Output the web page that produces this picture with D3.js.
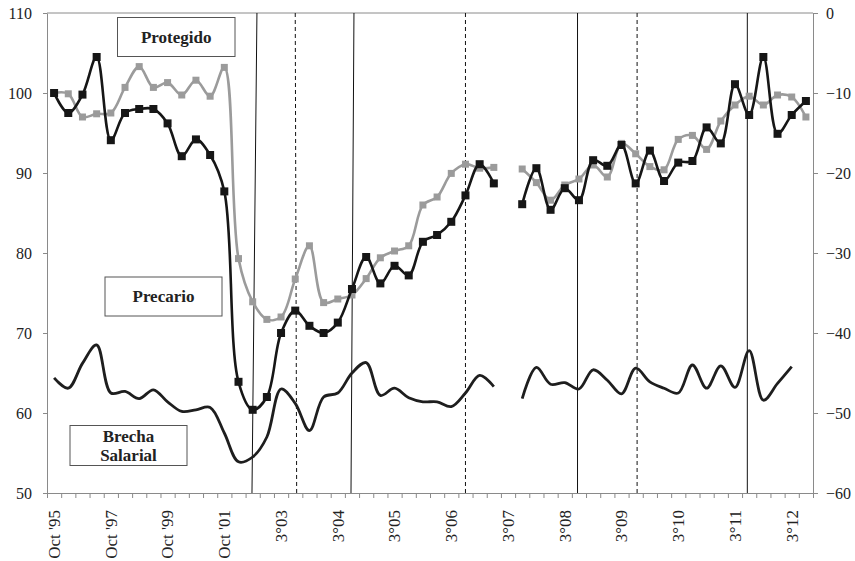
<!doctype html>
<html>
<head>
<meta charset="utf-8">
<title>Protegido, Precario y Brecha Salarial</title>
<script src="https://d3js.org/d3.v7.min.js"></script>
<style>
  body { margin: 0; background: #fff; }
  svg text { font-family: "Liberation Serif", "Times New Roman", serif; fill: #222; }
</style>
</head>
<body>
<script>
// categorias (ondas EPH puntual, luego trimestres EPH continua)
var categories = ["Oct '95","May '96","Oct '96","May '97","Oct '97","May '98","Oct '98","May '99",
  "Oct '99","May '00","Oct '00","May '01","Oct '01","May '02","Oct '02","May '03",
  "3°03","4°03","1°04","2°04","3°04","4°04","1°05","2°05","3°05","4°05","1°06","2°06",
  "3°06","4°06","1°07","2°07","3°07","4°07","1°08","2°08","3°08","4°08","1°09","2°09",
  "3°09","4°09","1°10","2°10","3°10","4°10","1°11","2°11","3°11","4°11","1°12","2°12",
  "3°12","4°12"];

// indice salarial, trabajadores precarios (negro)
var precario = [100, 97.5, 99.8, 104.5, 94.1, 97.5, 98.0, 98.0, 96.2, 92.1, 94.2, 92.25, 87.7,
  63.9, 60.4, 62.0, 70.0, 72.8, 70.9, 70.0, 71.3, 75.5, 79.5, 76.2, 78.4, 77.2, 81.4, 82.25,
  83.9, 87.2, 91.1, 88.7, null, 86.1, 90.6, 85.4, 88.1, 86.6, 91.6, 90.9, 93.5, 88.7, 92.8,
  89.0, 91.3, 91.5, 95.7, 93.7, 101.1, 97.25, 104.5, 94.9, 97.25, 99.0];

// indice salarial, trabajadores protegidos (gris)
var protegido = [100, 99.9, 97.0, 97.4, 97.5, 100.7, 103.3, 100.7, 101.3, 99.75, 101.6, 99.6, 103.2,
  79.3, 73.9, 71.7, 72.0, 76.75, 80.9, 73.8, 74.25, 74.75, 76.8, 79.4, 80.25, 80.9, 86.0, 87.0,
  89.95, 91.1, 90.6, 90.7, null, 90.5, 88.8, 86.6, 88.5, 89.25, 91.0, 89.5, 93.7, 92.4, 90.8,
  90.4, 94.2, 94.7, 92.95, 96.5, 98.5, 99.6, 98.5, 99.75, 99.5, 97.0];

// brecha salarial en % (eje derecho)
var brecha = [-45.6, -46.9, -43.8, -41.5, -47.5, -47.3, -48.2, -47.1, -48.6, -49.8, -49.6, -49.3,
  -52.5, -56.1, -55.5, -53.0, -47.0, -48.8, -52.2, -48.0, -47.5, -45.0, -43.7, -47.8, -46.9,
  -48.1, -48.6, -48.6, -49.2, -47.5, -45.3, -46.7, null, -48.2, -44.3, -46.4, -46.2, -47.0,
  -44.6, -45.9, -47.6, -44.4, -46.1, -46.9, -47.5, -44.0, -46.9, -44.1, -46.8, -42.2, -48.4,
  -46.3, -44.2, null];

var leftTicks = [50, 60, 70, 80, 90, 100, 110];
var rightTicks = [-60, -50, -40, -30, -20, -10, 0];

// cortes de periodo (posicion en categorias, arriba / abajo)
var cortes = [
  {top: 14.30, bottom: 13.95, dashed: false},
  {top: 17.0, bottom: 17.1, dashed: true},
  {top: 21.14, bottom: 20.93, dashed: false},
  {top: 29.0, bottom: 29.0, dashed: true},
  {top: 36.9, bottom: 36.9, dashed: false},
  {top: 41.1, bottom: 41.1, dashed: true},
  {top: 48.87, bottom: 48.87, dashed: false}
];

var width = 855, height = 561;
var plotLeft = 47, plotRight = 813, plotTop = 13, plotBottom = 493;

var svg = d3.select("body").append("svg")
    .attr("width", width)
    .attr("height", height);

var x = d3.scaleBand().domain(categories).range([plotLeft, plotRight]);
var xEdge = d3.scaleLinear().domain([0, categories.length]).range([plotLeft, plotRight]);
var yLeft = d3.scaleLinear().domain([50, 110]).range([plotBottom, plotTop]);
var yRight = d3.scaleLinear().domain([-60, 0]).range([plotBottom, plotTop]);

function cx(i) { return x(categories[i]) + x.bandwidth() / 2; }

var axisColor = "#8a8a8a";

// marco superior
svg.append("line")
    .attr("x1", plotLeft).attr("x2", plotRight)
    .attr("y1", plotTop).attr("y2", plotTop)
    .attr("stroke", axisColor);

// eje izquierdo
var gl = svg.append("g")
    .attr("transform", "translate(" + plotLeft + ",0)")
    .call(d3.axisLeft(yLeft).tickValues(leftTicks).tickSize(4).tickPadding(11).tickSizeOuter(0));
gl.select(".domain").attr("stroke", axisColor);
gl.selectAll(".tick line").attr("stroke", axisColor);
gl.selectAll("text").style("font-size", "16px");

// eje derecho
var gr = svg.append("g")
    .attr("transform", "translate(" + plotRight + ",0)")
    .call(d3.axisRight(yRight).tickValues(rightTicks).tickSize(5).tickPadding(8).tickSizeOuter(0));
gr.select(".domain").attr("stroke", axisColor);
gr.selectAll(".tick line").attr("stroke", axisColor);
gr.selectAll("text").style("font-size", "16px");

// eje x: marcas entre categorias
var gx = svg.append("g")
    .attr("transform", "translate(0," + plotBottom + ")")
    .call(d3.axisBottom(xEdge).tickValues(d3.range(0, categories.length + 1))
      .tickSize(5).tickFormat("").tickSizeOuter(0));
gx.select(".domain").attr("stroke", axisColor);
gx.selectAll(".tick line").attr("stroke", axisColor);

// etiquetas x cada 4 categorias
var gxl = svg.append("g")
    .attr("transform", "translate(0," + plotBottom + ")")
    .call(d3.axisBottom(x).tickValues(categories.filter(function(d, i) { return i % 4 == 0; }))
      .tickSize(0));
gxl.select(".domain").remove();
gxl.selectAll("text")
    .attr("transform", "rotate(-90)")
    .attr("text-anchor", "end")
    .attr("x", -17)
    .attr("y", 0)
    .attr("dy", "0.34em")
    .style("font-size", "17px");

// lineas de corte
svg.selectAll(".corte")
    .data(cortes)
    .enter()
    .append("line")
    .attr("class", "corte")
    .attr("x1", function(d) { return xEdge(d.top + 0.5); })
    .attr("x2", function(d) { return xEdge(d.bottom + 0.5); })
    .attr("y1", plotTop)
    .attr("y2", plotBottom)
    .attr("stroke", "#111")
    .attr("stroke-width", 1)
    .attr("stroke-dasharray", function(d) { return d.dashed ? "4,3" : null; });

function serie(values) {
    return values.map(function(v, i) { return {i: i, v: v}; });
}

function lineFor(scale) {
    return d3.line()
        .defined(function(d) { return d.v != null; })
        .x(function(d) { return cx(d.i); })
        .y(function(d) { return scale(d.v); })
        .curve(d3.curveCatmullRom.alpha(0.5));
}

// brecha salarial
svg.append("path")
    .datum(serie(brecha))
    .attr("fill", "none")
    .attr("stroke", "#1e1e1e")
    .attr("stroke-width", 2.8)
    .attr("d", lineFor(yRight));

// protegido (gris)
svg.append("path")
    .datum(serie(protegido))
    .attr("fill", "none")
    .attr("stroke", "#9b9b9b")
    .attr("stroke-width", 2.6)
    .attr("d", lineFor(yLeft));

svg.selectAll(".mk-prot")
    .data(serie(protegido).filter(function(d) { return d.v != null; }))
    .enter()
    .append("rect")
    .attr("class", "mk-prot")
    .attr("x", function(d) { return cx(d.i) - 3.5; })
    .attr("y", function(d) { return yLeft(d.v) - 3.5; })
    .attr("width", 7)
    .attr("height", 7)
    .attr("fill", "#9b9b9b");

// precario (negro)
svg.append("path")
    .datum(serie(precario))
    .attr("fill", "none")
    .attr("stroke", "#161616")
    .attr("stroke-width", 2.6)
    .attr("d", lineFor(yLeft));

svg.selectAll(".mk-prec")
    .data(serie(precario).filter(function(d) { return d.v != null; }))
    .enter()
    .append("rect")
    .attr("class", "mk-prec")
    .attr("x", function(d) { return cx(d.i) - 4; })
    .attr("y", function(d) { return yLeft(d.v) - 4; })
    .attr("width", 8)
    .attr("height", 8)
    .attr("fill", "#161616");

// cajas de rotulos
var boxes = [
  {lines: ["Protegido"], x: 117.5, y: 17.5, w: 117.5, h: 39},
  {lines: ["Precario"], x: 105, y: 277, w: 117, h: 39},
  {lines: ["Brecha", "Salarial"], x: 70, y: 425.5, w: 117, h: 40}
];

var box = svg.selectAll(".box")
    .data(boxes)
    .enter()
    .append("g")
    .attr("class", "box");

box.append("rect")
    .attr("x", function(d) { return d.x; })
    .attr("y", function(d) { return d.y; })
    .attr("width", function(d) { return d.w; })
    .attr("height", function(d) { return d.h; })
    .attr("fill", "#fff")
    .attr("stroke", "#555")
    .attr("stroke-width", 1);

box.each(function(d) {
    var g = d3.select(this);
    var n = d.lines.length;
    d.lines.forEach(function(t, k) {
        g.append("text")
            .attr("x", d.x + d.w / 2)
            .attr("y", d.y + d.h / 2 + (k - (n - 1) / 2) * 19)
            .attr("dy", "0.35em")
            .attr("text-anchor", "middle")
            .style("font-size", "17px")
            .style("font-weight", "bold")
            .text(t);
    });
});
</script>
</body>
</html>
